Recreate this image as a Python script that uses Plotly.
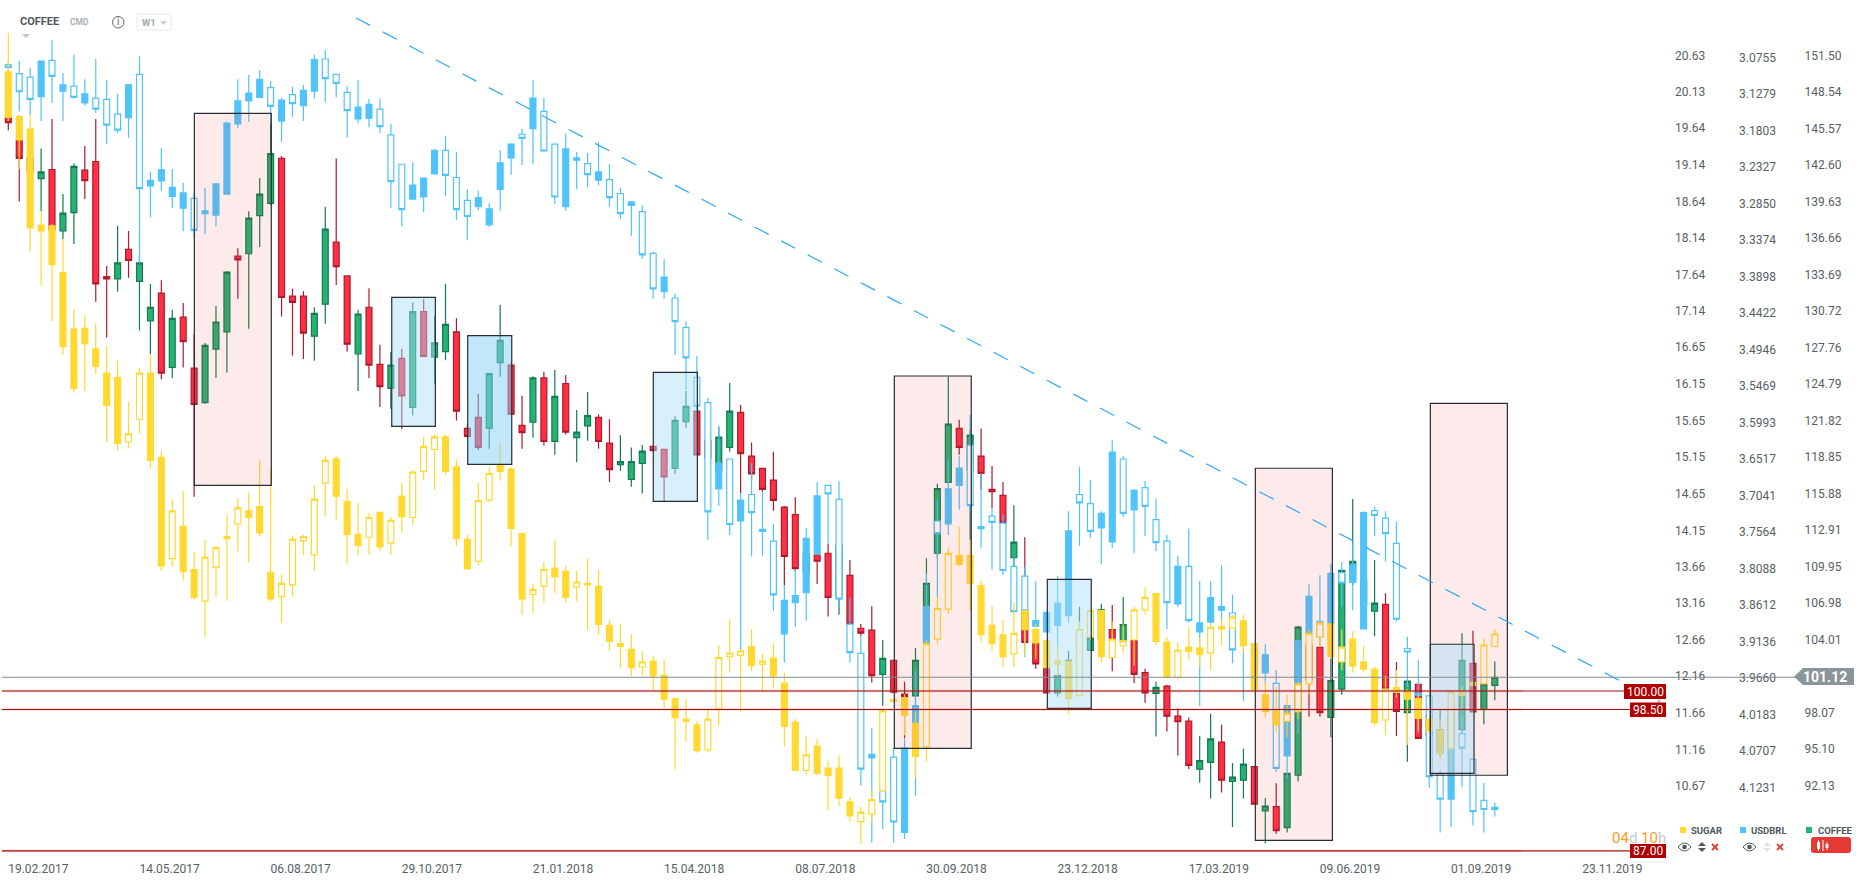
import plotly.graph_objects as go

WEEKS = list(range(137))

COFFEE_HIGH = [147.4,146.8,144.0,144.1,146.5,140.4,142.9,144.3,146.5,134.55,137.8,137.4,135.45,133.1,133.4,131.0,131.55,129.0,128.3,131.3,134.15,136.0,139.0,141.7,146.2,143.5,132.7,132.5,131.2,139.35,143.3,133.75,131.0,132.75,128.15,127.55,127.8,131.6,131.85,130.5,133.1,130.3,121.65,124.15,125.85,131.4,126.65,124.0,125.6,125.95,126.1,125.7,122.85,124.3,122.5,122.1,120.8,119.8,120.0,119.9,119.65,122.35,124.4,122.75,120.8,121.5,125.05,123.25,120.2,118.1,119.45,115.05,115.75,111.6,112.0,112.0,113.1,110.65,105.45,106.9,104.15,102.5,100.75,103.5,110.8,116.85,125.55,122.05,121.2,121.35,118.3,117.0,115.1,112.5,104.95,101.85,102.5,103.25,106.85,104.55,107.1,107.0,107.65,104.1,101.8,100.75,100.5,98.6,97.85,96.35,98.15,97.25,94.15,95.3,93.85,91.3,92.5,93.3,105.3,104.95,103.55,102.65,109.8,115.6,109.85,110.65,107.95,102.35,100.8,100.55,98.3,98.45,99.6,104.7,104.9,100.55,102.4]
COFFEE_BODY_TOP = [146.75,144.8,143.3,142.2,142.4,138.85,142.65,142.35,143.05,133.7,134.8,135.9,134.8,131.2,132.35,130.3,130.4,126.25,128.1,130.0,134.05,135.35,138.45,140.4,143.7,143.3,132.1,132.1,130.7,137.55,136.5,133.75,130.65,131.2,126.55,126.5,127.05,130.85,130.85,128.3,129.8,129.2,121.35,122.25,125.8,128.5,126.5,121.6,125.45,125.45,123.95,125.0,121.05,122.4,122.25,120.15,118.65,118.65,119.5,119.9,119.65,122.0,123.15,122.75,120.4,120.65,122.75,122.65,119.1,118.1,117.15,114.95,114.35,111.2,111.05,111.2,111.85,109.4,105.1,104.95,102.65,102.5,99.75,102.5,108.75,116.45,121.7,121.35,120.8,119.1,116.4,115.9,112.1,106.5,103.9,101.85,101.25,102.5,104.8,104.3,106.6,105.0,105.4,104.1,101.5,100.3,100.4,97.95,97.55,94.35,96.1,95.85,93.0,94.05,93.85,90.65,90.6,93.3,105.2,103.75,103.55,100.85,109.8,110.55,109.05,107.15,107.05,99.8,100.8,100.55,98.05,96.85,98.45,102.5,102.25,100.55,101.12]
COFFEE_BODY_BOTTOM = [146.2,143.3,142.2,141.65,137.5,137.4,138.9,141.5,133.1,133.5,133.5,135.0,133.3,130.1,125.85,126.3,128.4,123.3,123.45,127.8,129.2,135.05,135.55,138.65,139.65,132.0,131.6,129.1,128.85,131.45,134.5,128.2,127.4,126.5,124.75,124.6,124.0,123.05,127.2,127.15,127.6,122.75,120.7,119.8,121.35,126.7,122.5,121.0,121.85,120.3,120.3,121.05,120.6,121.55,120.3,118.0,118.4,117.2,118.5,119.55,117.4,118.1,121.9,119.2,118.95,117.95,119.8,119.3,117.65,116.4,115.5,110.95,109.95,109.7,110.55,107.6,107.65,105.45,104.7,101.25,101.35,99.9,99.55,99.6,104.15,111.2,116.95,119.8,117.95,117.7,116.2,113.7,110.85,103.95,102.2,99.85,99.85,99.45,103.35,103.3,104.15,104.15,104.05,101.35,99.85,99.8,97.95,97.5,93.95,93.65,94.2,92.75,92.65,92.75,90.8,90.25,88.65,88.9,93.15,100.9,98.25,97.85,100.15,109.05,107.0,106.5,100.2,98.35,98.25,96.15,96.4,95.05,95.35,96.85,98.3,98.5,100.45]
COFFEE_LOW = [145.6,139.8,141.6,139.0,136.7,136.75,136.35,140.0,131.65,128.75,132.45,133.6,129.3,127.4,125.35,125.45,126.3,115.8,123.35,125.45,125.9,131.9,129.45,136.1,139.5,130.45,127.25,127.0,126.85,129.85,133.0,127.6,124.4,125.45,123.1,122.95,121.3,122.4,127.2,125.0,126.9,122.0,120.6,119.6,119.7,125.55,122.5,119.7,120.6,119.95,119.2,120.85,118.6,120.35,119.7,117.0,117.9,116.6,116.05,119.55,115.45,117.65,121.4,119.2,118.4,117.55,119.45,116.1,117.15,116.2,114.65,108.6,109.7,109.45,108.7,106.05,106.2,104.95,104.5,100.7,98.8,99.9,96.15,98.8,103.35,110.8,116.9,119.2,112.3,116.35,114.85,113.65,110.1,103.95,101.8,99.85,99.55,99.25,102.95,103.3,103.75,101.6,103.75,100.65,99.05,96.3,96.7,94.75,93.65,92.55,91.25,91.75,88.95,91.25,90.8,87.6,88.4,88.5,92.65,97.9,97.9,96.25,99.7,108.6,106.6,104.45,100.2,96.35,94.25,96.15,96.0,94.7,95.2,96.6,98.3,97.3,99.25]
COFFEE_RISING = [3,5,6,10,12,13,15,18,19,20,22,23,24,28,29,32,35,37,39,40,44,45,48,50,52,53,56,57,58,61,62,65,66,73,76,80,83,84,85,86,88,92,96,97,98,99,100,102,105,109,110,112,113,115,117,118,121,122,123,124,125,128,131,132,133,135,136]

SUGAR_HIGH = [20.95,19.83,19.83,18.52,18.34,18.14,17.17,17.10,16.99,16.68,16.48,15.92,16.38,16.57,15.25,14.59,14.70,13.87,14.03,13.95,14.38,14.60,14.68,15.13,14.99,13.56,14.09,14.10,14.78,15.18,15.18,14.73,14.54,14.40,14.41,14.35,14.81,14.98,15.44,15.47,15.47,15.13,14.10,14.81,15.03,15.36,15.03,14.12,13.44,13.73,14.03,13.68,13.61,13.78,13.63,12.94,12.89,12.75,12.52,12.45,12.40,11.87,11.87,11.56,11.73,12.60,12.94,12.52,12.82,12.48,12.63,12.22,11.59,11.36,11.32,11.02,11.10,10.52,10.39,10.62,11.73,11.86,11.93,11.69,12.67,13.26,13.93,14.21,14.03,13.48,13.13,12.94,13.18,13.07,12.89,12.66,12.59,12.38,12.92,13.07,13.07,12.92,12.89,13.12,13.39,13.31,12.71,12.64,12.85,12.70,12.90,12.96,13.01,13.01,12.62,12.10,12.03,11.92,12.10,12.81,12.92,12.89,12.81,12.79,12.59,12.30,12.18,12.26,12.00,11.92,11.59,11.59,11.99,12.03,12.09,12.69,12.82]
SUGAR_BODY_TOP = [20.42,19.81,19.64,18.33,18.32,17.68,16.91,16.92,16.64,16.31,16.25,15.48,16.31,16.31,15.16,14.43,14.22,13.63,13.80,13.93,14.08,14.47,14.43,14.49,13.59,13.44,14.04,14.08,14.59,15.12,15.14,14.56,14.11,14.34,14.41,14.30,14.63,14.96,15.31,15.44,15.44,15.03,14.04,14.57,14.94,15.06,15.00,14.12,13.36,13.63,13.65,13.61,13.46,13.44,13.40,12.87,12.62,12.54,12.37,12.38,12.19,11.87,11.59,11.51,11.59,12.43,12.49,12.52,12.58,12.38,12.42,12.08,11.55,11.10,11.22,10.92,10.92,10.46,10.32,10.49,11.70,11.86,11.88,11.53,12.62,13.10,13.85,13.82,13.82,13.41,12.87,12.74,12.76,13.07,12.81,12.66,12.38,12.38,12.81,13.07,13.07,12.68,12.66,13.08,13.25,13.30,12.64,12.53,12.57,12.56,12.84,12.85,12.98,12.93,12.62,11.92,11.70,11.67,12.07,12.76,12.90,12.89,12.57,12.68,12.37,12.27,12.00,12.02,11.97,11.87,11.59,11.44,11.96,11.97,12.09,12.60,12.75]
SUGAR_BODY_BOTTOM = [19.80,19.49,18.29,18.25,17.79,16.67,16.10,16.71,16.40,15.87,15.35,15.37,15.68,15.12,13.68,13.78,13.60,13.25,13.20,13.66,14.05,14.25,14.34,14.13,13.23,13.26,13.42,14.02,13.83,14.81,14.63,14.11,13.96,14.07,13.94,13.99,14.35,14.34,14.97,15.27,14.97,14.05,13.64,13.74,14.58,14.97,14.19,13.23,13.29,13.40,13.53,13.25,13.39,13.42,12.88,12.65,12.58,12.29,12.30,12.18,11.86,11.61,11.56,11.16,11.17,11.73,12.44,12.46,12.32,12.34,12.18,11.49,10.89,10.89,10.85,10.82,10.51,10.27,10.19,10.29,10.61,11.83,11.64,11.08,11.21,12.68,13.09,13.70,13.44,12.74,12.62,12.44,12.48,12.81,12.63,12.29,12.34,11.87,11.91,12.71,12.44,12.43,12.59,12.67,13.08,12.65,12.16,12.16,12.51,12.47,12.49,12.82,12.83,12.59,11.99,11.69,11.51,11.56,11.69,12.07,12.71,12.44,12.37,12.31,12.27,11.54,11.58,11.96,11.86,11.60,11.43,11.12,11.19,11.91,12.05,12.07,12.58]
SUGAR_LOW = [19.75,19.09,17.97,17.50,17.02,16.56,16.04,16.07,16.30,15.37,15.25,15.28,15.49,15.02,13.61,13.67,13.48,13.22,12.71,13.26,13.20,13.88,13.73,14.08,13.19,12.90,13.26,13.83,13.61,14.36,14.31,13.71,13.82,13.83,13.88,13.83,14.14,14.23,14.85,14.72,14.92,13.95,13.63,13.69,14.54,14.84,13.95,13.01,13.04,13.17,13.31,13.18,13.20,12.81,12.74,12.52,12.29,12.18,12.19,11.99,11.74,10.90,11.28,11.13,11.14,11.50,12.22,11.69,12.25,11.97,12.00,11.22,10.89,10.84,10.82,10.35,10.41,10.19,9.89,10.17,10.61,11.83,11.37,10.79,11.01,12.61,13.02,13.67,13.07,12.63,12.52,12.30,12.30,12.46,12.41,12.28,12.17,11.66,11.91,12.67,12.36,12.42,12.48,12.32,13.01,12.60,12.14,12.13,12.40,12.30,12.26,12.59,12.83,12.49,11.99,11.61,11.41,11.34,11.59,11.92,12.57,12.42,12.26,12.22,12.23,11.50,11.37,11.88,11.24,11.44,11.43,11.03,10.83,11.73,12.05,12.07,12.57]
SUGAR_RISING = [11,12,15,18,19,21,25,26,27,28,29,33,35,37,38,39,43,44,48,49,52,53,58,64,65,66,67,69,73,78,79,80,84,85,86,92,98,99,101,102,103,104,107,110,111,112,117,118,119,120,122,126,132,135,136]

USDBRL_LOW = [3.083,3.082,3.092,3.082,3.052,3.099,3.073,3.108,3.079,3.109,3.129,3.116,3.075,3.241,3.207,3.237,3.257,3.271,3.264,3.258,3.169,3.108,3.102,3.095,3.111,3.135,3.119,3.116,3.073,3.066,3.101,3.118,3.109,3.136,3.136,3.172,3.230,3.227,3.250,3.208,3.189,3.212,3.266,3.268,3.286,3.210,3.200,3.179,3.109,3.135,3.201,3.186,3.212,3.214,3.198,3.230,3.264,3.284,3.289,3.356,3.366,3.416,3.456,3.505,3.565,3.606,3.653,3.702,3.659,3.700,3.746,3.834,3.811,3.752,3.686,3.691,3.685,3.852,3.907,4.039,4.129,4.068,4.054,3.957,3.817,3.712,3.653,3.649,3.590,3.673,3.724,3.733,3.794,3.808,3.828,3.873,3.821,3.728,3.664,3.683,3.728,3.626,3.649,3.696,3.685,3.710,3.762,3.792,3.753,3.828,3.828,3.805,3.848,3.884,3.920,3.919,3.956,4.007,3.914,3.832,3.820,3.803,3.801,3.773,3.728,3.722,3.728,3.743,3.908,3.941,3.992,4.099,4.068,4.023,4.084,4.118,4.146]
USDBRL_BODY_LOW = [3.087,3.100,3.105,3.082,3.081,3.116,3.118,3.129,3.135,3.137,3.158,3.116,3.101,3.253,3.238,3.263,3.271,3.279,3.297,3.258,3.171,3.139,3.128,3.108,3.120,3.138,3.130,3.124,3.080,3.079,3.101,3.127,3.148,3.144,3.151,3.188,3.230,3.260,3.250,3.210,3.210,3.249,3.282,3.278,3.294,3.228,3.201,3.187,3.135,3.154,3.201,3.208,3.221,3.229,3.241,3.252,3.272,3.284,3.298,3.358,3.392,3.422,3.464,3.536,3.572,3.659,3.653,3.712,3.704,3.754,3.771,3.856,3.849,3.767,3.706,3.691,3.711,3.890,3.932,4.077,4.129,4.081,4.068,4.007,3.865,3.742,3.696,3.666,3.633,3.750,3.735,3.745,3.807,3.821,3.885,3.873,3.860,3.756,3.704,3.717,3.731,3.643,3.653,3.698,3.694,3.740,3.771,3.807,3.807,3.888,3.852,3.865,3.874,3.891,3.924,3.934,3.975,4.007,3.914,3.850,3.886,3.817,3.816,3.805,3.730,3.727,3.738,3.774,3.925,3.989,3.993,4.105,4.068,4.047,4.084,4.143,4.153]
USDBRL_BODY_HIGH = [3.091,3.126,3.137,3.133,3.104,3.125,3.134,3.142,3.151,3.174,3.181,3.163,3.265,3.261,3.254,3.276,3.293,3.325,3.301,3.303,3.273,3.172,3.139,3.134,3.147,3.168,3.143,3.146,3.125,3.107,3.114,3.153,3.165,3.164,3.176,3.255,3.295,3.280,3.277,3.244,3.246,3.295,3.305,3.291,3.317,3.266,3.221,3.193,3.179,3.211,3.277,3.291,3.224,3.245,3.253,3.278,3.301,3.289,3.360,3.409,3.413,3.456,3.508,3.577,3.729,3.696,3.747,3.742,3.730,3.757,3.848,3.904,3.859,3.845,3.789,3.703,3.854,3.931,4.098,4.082,4.145,4.174,4.189,4.063,3.917,3.760,3.746,3.691,3.720,3.753,3.744,3.813,3.872,3.871,3.893,3.901,3.892,3.878,3.716,3.757,3.752,3.772,3.731,3.726,3.721,3.773,3.859,3.861,3.885,3.901,3.887,3.870,3.927,3.913,3.970,3.960,4.097,4.079,3.976,3.903,3.908,3.890,3.831,3.830,3.897,3.734,3.760,3.883,3.930,3.992,4.109,4.141,4.141,4.068,4.159,4.156,4.156]
USDBRL_HIGH = [3.098,3.154,3.159,3.168,3.142,3.168,3.136,3.146,3.156,3.201,3.185,3.192,3.372,3.306,3.268,3.293,3.326,3.336,3.330,3.319,3.273,3.178,3.169,3.135,3.172,3.198,3.162,3.168,3.136,3.141,3.134,3.192,3.171,3.177,3.185,3.293,3.319,3.281,3.299,3.244,3.276,3.310,3.339,3.296,3.320,3.297,3.245,3.231,3.230,3.211,3.287,3.297,3.266,3.263,3.260,3.291,3.309,3.333,3.366,3.423,3.423,3.504,3.554,3.583,3.769,3.720,3.762,3.927,3.793,3.792,3.871,3.945,3.894,3.885,3.791,3.774,3.865,3.945,4.122,4.204,4.184,4.204,4.198,4.136,3.920,3.851,3.762,3.726,3.729,3.781,3.812,3.819,3.872,3.937,3.893,3.901,3.964,3.888,3.778,3.766,3.804,3.781,3.736,3.788,3.763,3.785,3.897,3.865,3.888,4.008,3.890,3.894,3.946,4.000,3.982,3.975,4.102,4.111,4.047,3.903,3.923,3.890,3.865,3.870,3.897,3.764,3.800,3.886,3.980,4.046,4.125,4.189,4.181,4.124,4.179,4.189,4.166]
USDBRL_SOLID = [3,5,7,11,13,14,15,16,18,19,20,21,22,23,25,27,28,32,33,37,38,39,43,44,45,46,48,51,54,57,60,65,67,69,71,72,73,74,79,82,83,84,86,87,94,95,96,97,100,101,103,107,109,110,111,115,117,118,119,121,123,124,132,136]

SUGAR_TICKS = ["20.63","20.13","19.64","19.14","18.64","18.14","17.64","17.14","16.65","16.15","15.65","15.15","14.65","14.15","13.66","13.16","12.66","12.16","11.66","11.16","10.67"]
USDBRL_TICKS = ["3.0755","3.1279","3.1803","3.2327","3.2850","3.3374","3.3898","3.4422","3.4946","3.5469","3.5993","3.6517","3.7041","3.7564","3.8088","3.8612","3.9136","3.9660","4.0183","4.0707","4.1231"]
COFFEE_TICKS = ["151.50","148.54","145.57","142.60","139.63","136.66","133.69","130.72","127.76","124.79","121.82","118.85","115.88","112.91","109.95","106.98","104.01","98.07","95.10","92.13"]
DATE_LABELS = ["19.02.2017","14.05.2017","06.08.2017","29.10.2017","21.01.2018","15.04.2018","08.07.2018","30.09.2018","23.12.2018","17.03.2019","09.06.2019","01.09.2019","23.11.2019"]
DATE_POS = [2.75 + 12 * k for k in range(13)]

# drawn analysis boxes: first week, last week, top price, bottom price (coffee scale)
RED_BOXES = [(17.02,24.06,146.97,116.72),(81.06,88.1,125.61,95.34),(114.09,121.14,118.11,87.86),(130.1,137.15,123.38,93.15)]
BLUE_BOXES = [(35.08,39.07,132.01,121.52),(42.03,46.06,128.89,118.43),(59.01,63.04,125.91,115.42),(95.06,99.08,109.08,98.59),(130.1,134.1,103.80,93.31)]
BLUE_BOX_FILLS = ["rgba(170,223,249,0.47)","rgba(135,208,245,0.50)","rgba(170,223,249,0.47)","rgba(170,223,249,0.47)","rgba(170,223,249,0.47)"]
LEVELS = [100.0, 98.5, 87.0]
LAST_PRICE = 101.12
TREND = (31.81, 154.72, 151.1, 99.13)

for arr in (COFFEE_HIGH,COFFEE_BODY_TOP,COFFEE_BODY_BOTTOM,COFFEE_LOW,SUGAR_HIGH,SUGAR_BODY_TOP,SUGAR_BODY_BOTTOM,SUGAR_LOW,USDBRL_LOW,USDBRL_BODY_LOW,USDBRL_BODY_HIGH,USDBRL_HIGH):
    assert len(arr) == 137, len(arr)

W, H, PB = 1866, 885, 860
def X(px): return px / W
def Y(py): return (PB - py) / PB

def oc(top, bottom, rising):
    rs = set(rising)
    o = [bottom[i] if i in rs else top[i] for i in WEEKS]
    c = [top[i] if i in rs else bottom[i] for i in WEEKS]
    return o, c

co, cc = oc(COFFEE_BODY_TOP, COFFEE_BODY_BOTTOM, COFFEE_RISING)
so, sc = oc(SUGAR_BODY_TOP, SUGAR_BODY_BOTTOM, SUGAR_RISING)
solid = set(USDBRL_SOLID)
uo = [USDBRL_BODY_HIGH[i] if i in solid else USDBRL_BODY_LOW[i] for i in WEEKS]
uc = [USDBRL_BODY_LOW[i] if i in solid else USDBRL_BODY_HIGH[i] for i in WEEKS]

GREEN, GREEN_D = "#25b375", "#147a50"
RED, RED_D = "#ff3046", "#ad1a2c"
BLUE = "#4fc3fb"
YELLOW = "#ffd930"

def candle(o, h, l, c, yaxis, up_line, up_fill, dn_line, dn_fill, name):
    return go.Candlestick(x=WEEKS, open=o, high=h, low=l, close=c, yaxis=yaxis, name=name,
                          increasing=dict(line=dict(color=up_line, width=1.2), fillcolor=up_fill),
                          decreasing=dict(line=dict(color=dn_line, width=1.2), fillcolor=dn_fill),
                          whiskerwidth=0, showlegend=False, hoverinfo="skip")

fig = go.Figure()
fig.add_trace(candle(co, COFFEE_HIGH, COFFEE_LOW, cc, "y", GREEN_D, GREEN, RED_D, RED, "COFFEE"))
fig.add_trace(candle(uo, USDBRL_HIGH, USDBRL_LOW, uc, "y2", BLUE, "#ffffff", BLUE, BLUE, "USDBRL"))
fig.add_trace(candle(so, SUGAR_HIGH, SUGAR_LOW, sc, "y3", YELLOW, "#ffffff", YELLOW, YELLOW, "SUGAR"))

shapes = []
for x0, x1, y1, y0 in RED_BOXES:
    shapes.append(dict(type="rect", xref="x", yref="y", x0=x0, x1=x1, y0=y0, y1=y1, layer="above",
                       fillcolor="rgba(235,55,55,0.10)", line=dict(color="#262e33", width=1.2)))
for (x0, x1, y1, y0), fill in zip(BLUE_BOXES, BLUE_BOX_FILLS):
    shapes.append(dict(type="rect", xref="x", yref="y", x0=x0, x1=x1, y0=y0, y1=y1, layer="above",
                       fillcolor=fill, line=dict(color="#262e33", width=1.2)))
shapes.append(dict(type="line", xref="x", yref="y", x0=TREND[0], y0=TREND[1], x1=TREND[2], y1=TREND[3], layer="above",
                   line=dict(color="#2ea6f7", width=1.2, dash="16px,14px")))
for lv in LEVELS:
    shapes.append(dict(type="line", xref="paper", yref="y", x0=X(2), x1=X(1522), y0=lv, y1=lv, layer="above",
                       line=dict(color="rgba(200,70,70,0.22)", width=2.5)))
    shapes.append(dict(type="line", xref="paper", yref="y", x0=X(2), x1=X(1664), y0=lv, y1=lv, layer="above",
                       line=dict(color="#a80f0f", width=1.1)))
shapes.append(dict(type="line", xref="paper", yref="y", x0=X(2), x1=X(1796), y0=LAST_PRICE, y1=LAST_PRICE, layer="above",
                   line=dict(color="#7f8c92", width=1.1)))

def prect(x0, y0, x1, y1, fill, line=None, lw=0):
    shapes.append(dict(type="rect", xref="paper", yref="paper", x0=X(x0), x1=X(x1), y0=Y(y0), y1=Y(y1),
                       fillcolor=fill, layer="above", line=dict(color=line or fill, width=lw)))

def ppath(pts, fill=None, line=None, lw=1):
    d = "M" + " L".join(f"{X(a):.5f},{Y(b):.5f}" for a, b in pts) + " Z"
    shapes.append(dict(type="path", xref="paper", yref="paper", path=d, layer="above",
                       fillcolor=fill or "rgba(0,0,0,0)", line=dict(color=line or "rgba(0,0,0,0)", width=lw)))

def pline(x0, y0, x1, y1, color, lw=1.5):
    shapes.append(dict(type="line", xref="paper", yref="paper", x0=X(x0), x1=X(x1), y0=Y(y0), y1=Y(y1),
                       layer="above", line=dict(color=color, width=lw)))

def eye(cx, cy):
    d = (f"M{X(cx-6.5):.5f},{Y(cy):.5f} Q{X(cx):.5f},{Y(cy-8):.5f} {X(cx+6.5):.5f},{Y(cy):.5f} "
         f"Q{X(cx):.5f},{Y(cy+8):.5f} {X(cx-6.5):.5f},{Y(cy):.5f} Z")
    shapes.append(dict(type="path", xref="paper", yref="paper", path=d, layer="above",
                       fillcolor="rgba(0,0,0,0)", line=dict(color="#4d5a60", width=1)))
    shapes.append(dict(type="circle", xref="paper", yref="paper", x0=X(cx-2.3), x1=X(cx+2.3), y0=Y(cy-2.3), y1=Y(cy+2.3),
                       layer="above", fillcolor="#4d5a60", line=dict(width=0)))

def cross(cx, cy):
    pline(cx-3, cy-3, cx+3, cy+3, "#e53935", 1.8)
    pline(cx-3, cy+3, cx+3, cy-3, "#e53935", 1.8)

def updown(cx, cy, color):
    ppath([(cx-4, cy-1), (cx+4, cy-1), (cx, cy-5)], fill=color)
    ppath([(cx-4, cy+1), (cx+4, cy+1), (cx, cy+5)], fill=color)

# header
shapes.append(dict(type="circle", xref="paper", yref="paper", x0=X(112.5), x1=X(124), y0=Y(16.5), y1=Y(28), layer="above",
                   fillcolor="rgba(0,0,0,0)", line=dict(color="#5e686d", width=1)))
shapes.append(dict(type="rect", xref="paper", yref="paper", x0=X(137), x1=X(171), y0=Y(14), y1=Y(30), layer="above",
                   fillcolor="#ffffff", line=dict(color="#e6e8e9", width=1)))
ppath([(160, 21), (167, 21), (163.5, 25)], fill="#c8cdd0")
ppath([(22, 34), (30, 34), (26, 38)], fill="#c0c5c8")

# price tags
prect(1624, 684, 1666, 699, "#b00000")
prect(1630, 702.5, 1666, 717, "#b00000")
prect(1630, 844, 1666, 858, "#b00000")
ppath([(1794, 676.7), (1803, 668), (1854, 668), (1854, 685), (1803, 685)], fill="#8a9599")

# legend
prect(1680, 827, 1686, 833, YELLOW)
prect(1740, 827, 1746, 833, BLUE)
prect(1806, 827, 1812, 833, GREEN)
eye(1684.5, 847); updown(1702, 847, "#4d5a60"); cross(1715, 847)
eye(1749.5, 847); updown(1767, 847, "#dfe3e5"); cross(1780, 847)
shapes.append(dict(type="path", xref="paper", yref="paper", layer="above", fillcolor="#e53935", line=dict(width=0),
                   path=f"M{X(1814):.5f},{Y(837):.5f} L{X(1848):.5f},{Y(837):.5f} Q{X(1851):.5f},{Y(837):.5f} {X(1851):.5f},{Y(840):.5f} "
                        f"L{X(1851):.5f},{Y(850):.5f} Q{X(1851):.5f},{Y(853):.5f} {X(1848):.5f},{Y(853):.5f} L{X(1814):.5f},{Y(853):.5f} "
                        f"Q{X(1811):.5f},{Y(853):.5f} {X(1811):.5f},{Y(850):.5f} L{X(1811):.5f},{Y(840):.5f} Q{X(1811):.5f},{Y(837):.5f} {X(1814):.5f},{Y(837):.5f} Z"))
pline(1818.5, 840, 1818.5, 851, "#ffffff", 1); prect(1817, 842, 1820, 849, "#ffffff")
pline(1823, 840, 1823, 851, "#ffffff", 1)
pline(1827, 842, 1827, 850, "#ffffff", 1); prect(1825.5, 844, 1828.5, 848, "#ffffff")

def note(text, px, py, size, color, anchor="left", weight=None, family="Roboto"):
    t = f"<b>{text}</b>" if weight else text
    return dict(text=t, xref="paper", yref="paper", x=X(px), y=Y(py), xanchor=anchor, yanchor="middle", showarrow=False,
                font=dict(family=family, size=size, color=color))

anns = [
    note("COFFEE", 17.5, 22, 11, "#4d585e", weight=True),
    note("CMD", 68, 22, 8.5, "#a7b1b6", weight=True),
    note("i", 118.2, 22, 10, "#5e686d", anchor="center"),
    note("W1", 140, 22.5, 9.5, "#a2aaae", weight=True),
    note("100.00", 1645, 691.5, 12, "#ffffff", anchor="center"),
    note("98.50", 1648, 709.5, 12, "#ffffff", anchor="center"),
    note("87.00", 1648, 851, 12, "#ffffff", anchor="center"),
    note("101.12", 1825, 676.7, 14, "#ffffff", anchor="center", weight=True),
    note("SUGAR", 1689, 830, 9.5, "#4d585e", weight=True),
    note("USDBRL", 1749, 830, 9.5, "#4d585e", weight=True),
    note("COFFEE", 1816, 830, 9.5, "#4d585e", weight=True),
    note('<span style="color:#ff9a1f">04</span><span style="color:#c5cacc">d</span> '
         '<span style="color:#ff9a1f">10</span><span style="color:#c5cacc">h</span>', 1668, 838, 15, "#ff9a1f", anchor="right"),
]

label_font = dict(family="Roboto", size=12, color="#575f63")
fig.update_layout(
    width=W, height=H, margin=dict(l=0, r=0, t=0, b=H - PB), paper_bgcolor="#ffffff", plot_bgcolor="#ffffff",
    boxmode="overlay", boxgap=0.46, boxgroupgap=0, hovermode=False, showlegend=False, dragmode=False,
    shapes=shapes, annotations=anns,
    xaxis=dict(range=[-0.76, 169.96], rangeslider=dict(visible=False), showgrid=False, zeroline=False, showline=False,
               tickmode="array", tickvals=DATE_POS, ticktext=DATE_LABELS, ticks="", tickfont=label_font, fixedrange=True),
    yaxis=dict(range=[86.26, 156.18], anchor="free", position=X(1803.5), side="right", showgrid=False, zeroline=False,
               showline=False, ticks="", tickmode="array", tickvals=[float(t) for t in COFFEE_TICKS], ticktext=COFFEE_TICKS,
               tickfont=label_font, fixedrange=True, ticklabelshift=-2),
    yaxis2=dict(range=[4.2285, 2.9943], overlaying="y", anchor="free", position=X(1738), side="right", showgrid=False,
                zeroline=False, showline=False, ticks="", tickmode="array", tickvals=[float(t) for t in USDBRL_TICKS],
                ticktext=USDBRL_TICKS, tickfont=label_font, fixedrange=True, ticklabelshift=-1),
    yaxis3=dict(range=[9.667, 21.40], overlaying="y", anchor="free", position=X(1674), side="right", showgrid=False,
                zeroline=False, showline=False, ticks="", tickmode="array", tickvals=[float(t) for t in SUGAR_TICKS],
                ticktext=SUGAR_TICKS, tickfont=label_font, fixedrange=True, ticklabelshift=-1),
)

fig.write_html("out.html", config=dict(displayModeBar=False, staticPlot=True),
               post_script="document.body.style.margin='0';document.body.style.overflow='hidden';")
